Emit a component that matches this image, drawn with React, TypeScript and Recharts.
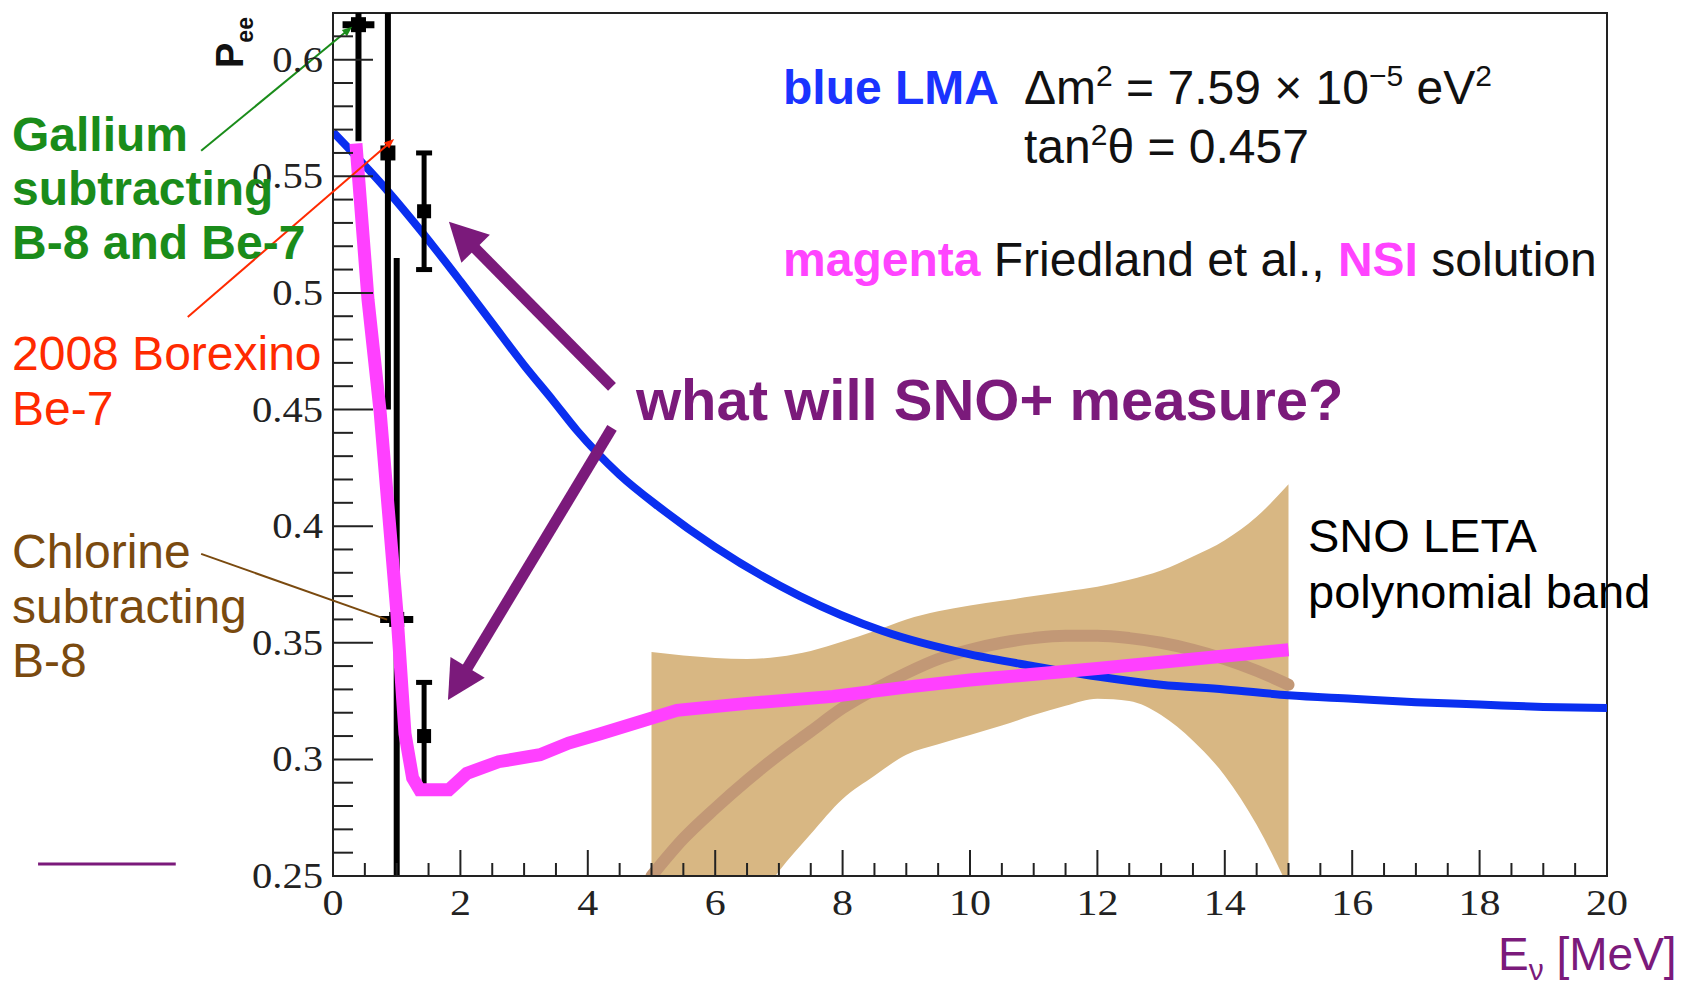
import {
  ComposedChart,
  Line,
  Area,
  Scatter,
  XAxis,
  YAxis,
  ErrorBar,
  ReferenceLine,
  ReferenceArea,
} from "recharts";

// LMA prediction (blue)
const lmaE = [0, 0.85, 1.37, 2, 2.5, 3, 3.45, 3.83, 4.5, 5.13, 6, 7.33, 8.63, 10, 11, 12, 13, 14, 15, 16, 17, 18, 19, 20];
const lmaP = [0.569, 0.544, 0.527, 0.505, 0.487, 0.469, 0.454, 0.441, 0.422, 0.408, 0.391, 0.37, 0.355, 0.345, 0.34, 0.3355, 0.332, 0.33, 0.3275, 0.326, 0.3245, 0.3235, 0.3225, 0.322];

// Friedland et al. NSI solution (magenta)
const nsiE = [0.36, 0.55, 0.74, 1.0, 1.13, 1.25, 1.36, 1.82, 2.1, 2.6, 3.25, 3.7, 4.2, 5.4, 6.5, 7.85, 9, 10, 12, 15];
const nsiP = [0.564, 0.497, 0.449, 0.364, 0.311, 0.292, 0.287, 0.287, 0.294, 0.299, 0.302, 0.307, 0.311, 0.321, 0.324, 0.327, 0.331, 0.334, 0.339, 0.347];

// SNO LETA polynomial band
const letaE = [5, 5.5, 6, 6.5, 7, 7.5, 8, 8.5, 9, 9.5, 10, 10.5, 11, 11.5, 12, 12.5, 13, 13.5, 14, 14.5, 15];
const letaLow = [0.17, 0.19, 0.21, 0.232, 0.252, 0.268, 0.283, 0.293, 0.302, 0.3065, 0.3105, 0.3145, 0.319, 0.323, 0.326, 0.325, 0.319, 0.308, 0.293, 0.272, 0.245];
const letaHigh = [0.346, 0.3445, 0.3435, 0.343, 0.344, 0.3465, 0.3505, 0.355, 0.36, 0.3635, 0.366, 0.368, 0.37, 0.372, 0.374, 0.377, 0.381, 0.387, 0.394, 0.404, 0.418];
const letaMid = [0.25, 0.266, 0.279, 0.291, 0.302, 0.312, 0.322, 0.33, 0.337, 0.343, 0.347, 0.35, 0.352, 0.353, 0.353, 0.352, 0.35, 0.347, 0.343, 0.338, 0.332];

// measured points: Gallium, Borexino Be-7, Chlorine
const measE = [0.4, 0.862, 1.0];
const measP = [0.615, 0.56, 0.36];
const measPErr = [0.05, 0.11, 0.155];
const measEErr = [0.25, 0, 0.26];

// hypothetical SNO+ pep points
const pepE = [1.43, 1.43];
const pepP = [0.535, 0.31];
const pepErr = [0.025, 0.023];

const xMajor = [0, 2, 4, 6, 8, 10, 12, 14, 16, 18, 20];
const yMajor = [0.25, 0.3, 0.35, 0.4, 0.45, 0.5, 0.55, 0.6];

const xTicks: number[] = [];
for (let i = 0; i <= 40; i++) xTicks.push(i / 2);
const yTicks: number[] = [];
for (let i = 25; i <= 62; i++) yTicks.push(i / 100);

const lmaData = lmaE.map((e, i) => ({ e, p: lmaP[i] }));
const nsiData = nsiE.map((e, i) => ({ e, p: nsiP[i] }));
const bandData = letaE.map((e, i) => ({ e, range: [letaLow[i], letaHigh[i]] }));
const midData = letaE.map((e, i) => ({ e, p: letaMid[i] }));
const measData = measE.map((e, i) => ({ e, p: measP[i], pErr: measPErr[i], eErr: measEErr[i] }));
const pepData = pepE.map((e, i) => ({ e, p: pepP[i], pErr: pepErr[i] }));

const PURPLE = "#7b1a7b";
const SERIF = '"Liberation Serif", "Times New Roman", serif';
const SANS = '"Liberation Sans", Arial, sans-serif';

const isMajor = (v: number, list: number[]) => list.some((m) => Math.abs(m - v) < 1e-6);

function YTick(props: any) {
  const { x, y, payload } = props;
  const major = isMajor(payload.value, yMajor);
  return (
    <g>
      <line x1={x} x2={x + (major ? 40 : 20)} y1={y} y2={y} stroke="#222" strokeWidth={2} />
      {major && (
        <text
          transform={`translate(${x - 10},${y + 12}) scale(1.16,1)`}
          textAnchor="end"
          fontFamily={SERIF}
          fontSize={35}
          fill="#222"
        >
          {String(payload.value)}
        </text>
      )}
    </g>
  );
}

function XTick(props: any) {
  const { x, y, payload } = props;
  const major = isMajor(payload.value, xMajor);
  return (
    <g>
      <line x1={x} x2={x} y1={y} y2={y - (major ? 26 : 13)} stroke="#222" strokeWidth={2} />
      {major && (
        <text
          transform={`translate(${x},${y + 39}) scale(1.2,1)`}
          textAnchor="middle"
          fontFamily={SERIF}
          fontSize={35}
          fill="#222"
        >
          {String(payload.value)}
        </text>
      )}
    </g>
  );
}

function arrowShape(color: string, width: number, headLen: number, headWidth: number) {
  return (props: any) => {
    const { x1, y1, x2, y2 } = props;
    const dx = x2 - x1;
    const dy = y2 - y1;
    const len = Math.hypot(dx, dy) || 1;
    const ux = dx / len;
    const uy = dy / len;
    const bx = x2 - ux * headLen;
    const by = y2 - uy * headLen;
    const px = -uy * (headWidth / 2);
    const py = ux * (headWidth / 2);
    return (
      <g>
        <line x1={x1} y1={y1} x2={bx + ux * 2} y2={by + uy * 2} stroke={color} strokeWidth={width} />
        {headLen > 0 && (
          <polygon points={`${x2},${y2} ${bx + px},${by + py} ${bx - px},${by - py}`} fill={color} />
        )}
      </g>
    );
  };
}

function Square({ cx, cy, size = 14 }: any) {
  if (cx == null || cy == null) return null;
  return <rect x={cx - size / 2} y={cy - size / 2} width={size} height={size} fill="#000" />;
}

export default function App() {
  return (
    <div style={{ position: "absolute", left: 0, top: 0, width: 1681, height: 987, background: "#fff" }}>
      <ComposedChart
        width={1681}
        height={987}
        margin={{ top: 13, right: 74, bottom: 61, left: 253 }}
      >
        <XAxis
          type="number"
          dataKey="e"
          domain={[0, 20]}
          ticks={xTicks}
          interval={0}
          allowDataOverflow
          height={50}
          tickSize={0}
          tickMargin={0}
          tickLine={false}
          axisLine={{ stroke: "#222", strokeWidth: 2 }}
          tick={<XTick />}
        />
        <YAxis
          type="number"
          dataKey="p"
          domain={[0.25, 0.62]}
          ticks={yTicks}
          interval={0}
          allowDataOverflow
          width={80}
          tickSize={0}
          tickMargin={0}
          tickLine={false}
          axisLine={{ stroke: "#222", strokeWidth: 2 }}
          tick={<YTick />}
        />
        <ReferenceArea x1={0} x2={20} y1={0.25} y2={0.62} fill="none" stroke="#222" strokeWidth={2} ifOverflow="visible" />

        <Area
          data={bandData}
          dataKey="range"
          type="monotone"
          fill="#d8b783"
          fillOpacity={1}
          stroke="none"
          isAnimationActive={false}
          zIndex={100}
        />
        <Line
          data={midData}
          dataKey="p"
          type="monotone"
          stroke="#c29876"
          strokeWidth={12}
          strokeLinecap="round"
          dot={false}
          activeDot={false}
          isAnimationActive={false}
          zIndex={150}
        />
        <Line
          data={lmaData}
          dataKey="p"
          type="monotone"
          stroke="#0a2ff0"
          strokeWidth={8}
          dot={false}
          activeDot={false}
          isAnimationActive={false}
          zIndex={200}
        />

        {/* vertical error bars, clipped to the frame */}
        {measData.map((d) => (
          <ReferenceLine
            key={`err-${d.e}`}
            segment={[{ x: d.e, y: d.p - d.pErr }, { x: d.e, y: d.p + d.pErr }]}
            ifOverflow="hidden"
            stroke="#000"
            strokeWidth={6}
            zIndex={300}
          />
        ))}
        <Scatter
          data={measData}
          dataKey="p"
          fill="#000"
          shape={(p: any) => <Square {...p} size={15} />}
          isAnimationActive={false}
          zIndex={300}
        >
          <ErrorBar dataKey="eErr" direction="x" width={0} stroke="#000" strokeWidth={7} />
        </Scatter>
        <Scatter
          data={pepData}
          dataKey="p"
          fill="#000"
          shape={(p: any) => <Square {...p} size={14} />}
          isAnimationActive={false}
          zIndex={300}
        >
          <ErrorBar dataKey="pErr" direction="y" width={8} stroke="#000" strokeWidth={5} />
        </Scatter>
        <Line
          data={nsiData}
          dataKey="p"
          type="linear"
          stroke="#ff40ff"
          strokeWidth={13}
          dot={false}
          activeDot={false}
          isAnimationActive={false}
          zIndex={700}
        />

        {/* leader lines from the labels */}
        <ReferenceLine
          segment={[{ x: -2.07, y: 0.5609 }, { x: 0.3, y: 0.6141 }]}
          ifOverflow="visible"
          stroke="#1a8c1a"
          shape={arrowShape("#1a8c1a", 2, 10, 8)}
          zIndex={800}
        />
        <ReferenceLine
          segment={[{ x: -2.28, y: 0.4897 }, { x: 0.96, y: 0.566 }]}
          ifOverflow="visible"
          stroke="#ff2a00"
          shape={arrowShape("#ff2a00", 2, 10, 8)}
          zIndex={800}
        />
        <ReferenceLine
          segment={[{ x: -2.07, y: 0.3881 }, { x: 0.82, y: 0.3602 }]}
          ifOverflow="visible"
          stroke="#7a4a0f"
          shape={arrowShape("#7a4a0f", 2, 0, 0)}
          zIndex={800}
        />
        <ReferenceLine
          segment={[{ x: -4.63, y: 0.2551 }, { x: -2.5, y: 0.2551 }]}
          ifOverflow="visible"
          stroke={PURPLE}
          shape={arrowShape(PURPLE, 3, 0, 0)}
          zIndex={800}
        />
        {/* "what will SNO+ measure?" arrows */}
        <ReferenceLine
          segment={[{ x: 4.38, y: 0.4597 }, { x: 1.82, y: 0.5305 }]}
          ifOverflow="visible"
          stroke={PURPLE}
          shape={arrowShape(PURPLE, 11, 38, 40)}
          zIndex={800}
        />
        <ReferenceLine
          segment={[{ x: 4.38, y: 0.4421 }, { x: 1.805, y: 0.3255 }]}
          ifOverflow="visible"
          stroke={PURPLE}
          shape={arrowShape(PURPLE, 11, 38, 40)}
          zIndex={800}
        />
      </ComposedChart>

      <svg
        width={1681}
        height={987}
        style={{ position: "absolute", left: 0, top: 0, pointerEvents: "none" }}
      >
        <g fontFamily={SANS}>
          {/* y axis title */}
          <text transform="rotate(-90, 243, 68)" x={243} y={68} fontSize={38} fontWeight="bold" fill="#111">
            P<tspan dy={10} fontSize={23}>ee</tspan>
          </text>

          <g fill="#1a8c1a" fontSize={48} fontWeight="bold">
            <text x={12} y={151}>Gallium</text>
            <text x={12} y={205}>subtracting</text>
            <text x={12} y={259}>B-8 and Be-7</text>
          </g>
          <g fill="#ff2a00" fontSize={48}>
            <text x={12} y={370}>2008 Borexino</text>
            <text x={12} y={425}>Be-7</text>
          </g>
          <g fill="#7a4a0f" fontSize={48}>
            <text x={12} y={568}>Chlorine</text>
            <text x={12} y={623}>subtracting</text>
            <text x={12} y={677}>B-8</text>
          </g>

          <text x={783} y={104} fontSize={48} fontWeight="bold" fill="#1a33ff">blue LMA</text>
          <text x={1024} y={104} fontSize={48} fill="#111">
            Δm<tspan dy={-18} fontSize={30}>2</tspan>
            <tspan dy={18}> = 7.59 × 10</tspan>
            <tspan dy={-18} fontSize={30}>−5</tspan>
            <tspan dy={18}> eV</tspan>
            <tspan dy={-18} fontSize={30}>2</tspan>
          </text>
          <text x={1024} y={163} fontSize={48} fill="#111">
            tan<tspan dy={-18} fontSize={30}>2</tspan>
            <tspan dy={18}>θ = 0.457</tspan>
          </text>
          <text x={783} y={276} fontSize={48} fill="#111">
            <tspan fill="#ff44ff" fontWeight="bold">magenta</tspan> Friedland et al.,{" "}
            <tspan fill="#ff44ff" fontWeight="bold">NSI</tspan> solution
          </text>

          <text x={636} y={420} fontSize={58} fontWeight="bold" fill={PURPLE}>
            what will SNO+ measure?
          </text>

          <text x={1308} y={552} fontSize={47} fill="#000">SNO LETA</text>
          <text x={1308} y={608} fontSize={47} fill="#000">polynomial band</text>

          <text x={1498} y={970} fontSize={46} fill={PURPLE}>
            E<tspan dy={10} fontSize={30}>ν</tspan>
            <tspan dy={-10}> [MeV]</tspan>
          </text>
        </g>
      </svg>
    </div>
  );
}
